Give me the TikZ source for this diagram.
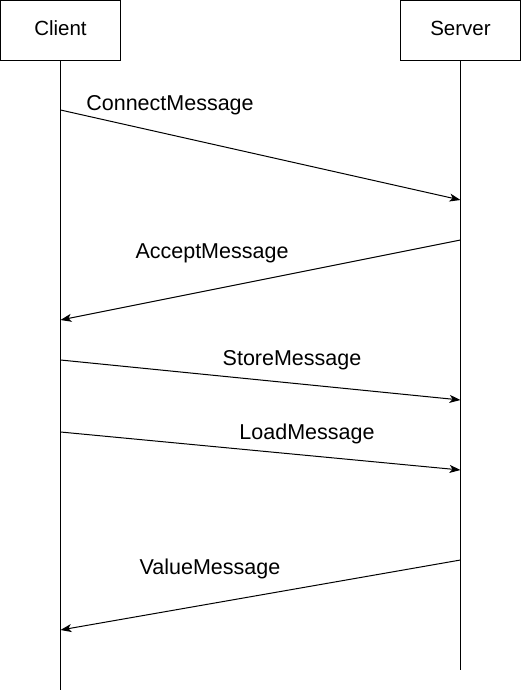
\documentclass[tikz,border=0pt]{standalone}
\usepackage{fontspec}
\setmainfont{Liberation Sans}
\usetikzlibrary{arrows.meta}
\begin{document}
\begin{tikzpicture}[x=1pt,y=-1pt,
  actor/.style={draw,line width=1pt,minimum width=120pt,minimum height=60pt,inner sep=0pt},
  actortext/.style={inner sep=0pt,font=\fontsize{20.5}{24}\selectfont},
  lifeline/.style={line width=1pt},
  msg/.style={line width=1pt,-{Stealth[length=11pt,width=8pt,inset=3pt]}},
  lbl/.style={inner sep=0pt,font=\fontsize{21.5}{26}\selectfont}]
\useasboundingbox (0,0) rectangle (521,692);
\node[actor] (client) at (60.5,30.5) {};
\node[actor] (server) at (460.5,30.5) {};
\node[actortext] (clientlbl) at (60.5,28) {Client};
\node[actortext] (serverlbl) at (460.5,28) {Server};
\coordinate (cend) at (60.5,690);
\coordinate (send) at (460.5,670);
\draw[lifeline] (client.south) -- (cend);
\draw[lifeline] (server.south) -- (send);
% message endpoints
\coordinate (c1) at (60.5,110);  \coordinate (s1) at (460.5,200);
\coordinate (s2) at (460.5,240); \coordinate (c2) at (60.5,320);
\coordinate (c3) at (60.5,360);  \coordinate (s3) at (460.5,400);
\coordinate (c4) at (60.5,432);  \coordinate (s4) at (460.5,470);
\coordinate (s5) at (460.5,560); \coordinate (c5) at (60.5,630);
\draw[msg] (c1) -- (s1);
\draw[msg] (s2) -- (c2);
\draw[msg] (c3) -- (s3);
\draw[msg] (c4) -- (s4);
\draw[msg] (s5) -- (c5);
\node[lbl] (l1) at (170,105) {ConnectMessage};
\node[lbl] (l2) at (212,253) {AcceptMessage};
\node[lbl] (l3) at (292,360) {StoreMessage};
\node[lbl] (l4) at (307,433.5) {LoadMessage};
\node[lbl] (l5) at (210,569) {ValueMessage};
\end{tikzpicture}
\end{document}
